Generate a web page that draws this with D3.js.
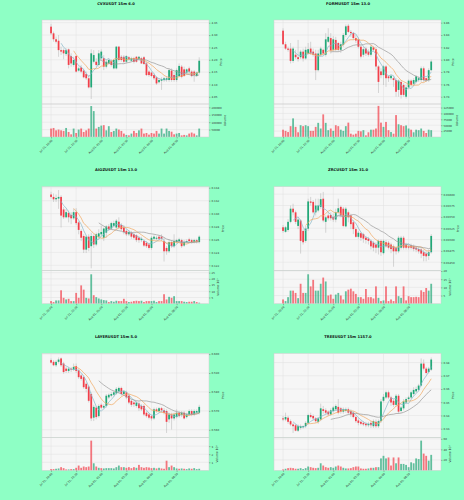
<!DOCTYPE html>
<html>
<head>
<meta charset="utf-8">
<script src="https://cdnjs.cloudflare.com/ajax/libs/d3/7.8.5/d3.min.js"></script>
<style>
  body{ margin:0; background:#8effc5; }
  svg{ display:block; font-family:"DejaVu Sans", sans-serif; }
</style>
</head>
<body>
<svg id="chart" width="464" height="500"></svg>
<script>
// x axis: candle index of each date tick and its label
var dateTicks = [0, 10, 20, 30, 40, 50];
var dateLabels = ["Jul 31, 20:00", "Jul 31, 22:30", "Aug 01, 01:00", "Aug 01, 03:30", "Aug 01, 06:00", "Aug 01, 08:30"];

// 15m candles, rows are [open, high, low, close]
var cvxOHLC = [
[4.334,4.345,4.300,4.307],[4.307,4.314,4.273,4.283],[4.283,4.294,4.266,4.273],[4.277,4.300,4.212,4.239],[4.239,4.253,4.219,4.233],
[4.239,4.246,4.202,4.226],[4.223,4.246,4.215,4.239],[4.242,4.246,4.165,4.179],[4.215,4.226,4.172,4.185],[4.179,4.212,4.172,4.199],
[4.215,4.219,4.148,4.152],[4.156,4.172,4.152,4.165],[4.169,4.179,4.145,4.152],[4.156,4.165,4.125,4.129],[4.142,4.152,4.118,4.125],
[4.125,4.138,4.084,4.088],[4.088,4.242,4.041,4.226],[4.192,4.239,4.185,4.219],[4.192,4.206,4.172,4.179],[4.179,4.239,4.172,4.226],
[4.206,4.242,4.199,4.233],[4.206,4.219,4.158,4.172],[4.172,4.199,4.165,4.192],[4.185,4.206,4.179,4.199],[4.196,4.202,4.172,4.179],
[4.165,4.202,4.161,4.199],[4.165,4.256,4.161,4.253],[4.253,4.256,4.192,4.199],[4.212,4.219,4.192,4.199],[4.212,4.219,4.185,4.192],
[4.192,4.219,4.185,4.215],[4.210,4.215,4.196,4.202],[4.196,4.212,4.192,4.206],[4.206,4.212,4.185,4.192],[4.212,4.215,4.188,4.192],
[4.202,4.215,4.196,4.212],[4.206,4.212,4.183,4.185],[4.210,4.215,4.179,4.183],[4.185,4.192,4.134,4.138],[4.152,4.158,4.131,4.138],
[4.148,4.152,4.129,4.134],[4.138,4.145,4.118,4.125],[4.129,4.134,4.098,4.104],[4.109,4.125,4.104,4.118],[4.115,4.129,4.078,4.121],
[4.118,4.131,4.111,4.125],[4.118,4.134,4.111,4.125],[4.118,4.165,4.111,4.158],[4.156,4.165,4.111,4.118],[4.138,4.152,4.111,4.118],
[4.118,4.165,4.111,4.158],[4.134,4.185,4.129,4.175],[4.172,4.179,4.125,4.131],[4.161,4.172,4.131,4.134],[4.148,4.165,4.142,4.161],
[4.165,4.172,4.148,4.152],[4.152,4.158,4.129,4.134],[4.152,4.158,4.111,4.138],[4.134,4.152,4.131,4.148],[4.148,4.210,4.142,4.196]];
var cvxVolume = [57000,61000,45000,50000,45000,41000,61000,34000,18000,57000,27000,50000,57000,34000,45000,57000,209000,175000,57000,68000,
77000,80000,45000,73000,34000,41000,57000,50000,41000,23000,14000,11000,23000,41000,27000,45000,57000,23000,27000,16000,
27000,23000,41000,23000,57000,23000,57000,41000,36000,18000,23000,27000,11000,14000,11000,23000,30000,23000,11000,57000];

var formOHLC = [
[3.847,3.851,3.824,3.825],[3.825,3.829,3.816,3.818],[3.818,3.821,3.813,3.816],[3.818,3.827,3.794,3.798],[3.798,3.821,3.795,3.818],
[3.808,3.816,3.801,3.804],[3.804,3.832,3.797,3.801],[3.804,3.816,3.801,3.813],[3.813,3.818,3.797,3.802],[3.802,3.821,3.800,3.816],
[3.810,3.827,3.808,3.817],[3.818,3.829,3.808,3.810],[3.813,3.818,3.805,3.808],[3.810,3.816,3.767,3.783],[3.783,3.816,3.781,3.810],
[3.808,3.821,3.805,3.818],[3.816,3.818,3.808,3.810],[3.808,3.843,3.805,3.833],[3.829,3.851,3.827,3.837],[3.835,3.843,3.810,3.815],
[3.816,3.838,3.813,3.833],[3.832,3.837,3.813,3.816],[3.827,3.829,3.813,3.816],[3.816,3.829,3.811,3.825],[3.824,3.843,3.821,3.840],
[3.840,3.857,3.837,3.854],[3.855,3.858,3.843,3.845],[3.845,3.848,3.837,3.843],[3.843,3.845,3.832,3.835],[3.835,3.840,3.827,3.831],
[3.833,3.836,3.818,3.821],[3.821,3.824,3.802,3.805],[3.808,3.821,3.804,3.817],[3.818,3.821,3.806,3.810],[3.813,3.817,3.805,3.808],
[3.808,3.824,3.805,3.821],[3.820,3.822,3.813,3.816],[3.817,3.821,3.783,3.789],[3.789,3.791,3.746,3.764],[3.781,3.786,3.770,3.775],
[3.775,3.791,3.759,3.789],[3.789,3.791,3.756,3.770],[3.773,3.775,3.764,3.770],[3.770,3.775,3.767,3.774],[3.770,3.773,3.756,3.767],
[3.767,3.770,3.740,3.748],[3.751,3.768,3.740,3.766],[3.764,3.767,3.737,3.743],[3.759,3.762,3.740,3.743],[3.740,3.759,3.737,3.755],
[3.755,3.768,3.752,3.766],[3.766,3.768,3.756,3.759],[3.761,3.770,3.757,3.767],[3.764,3.775,3.762,3.773],[3.767,3.773,3.764,3.770],
[3.767,3.789,3.764,3.786],[3.786,3.789,3.764,3.767],[3.770,3.771,3.764,3.767],[3.767,3.786,3.764,3.783],[3.783,3.800,3.781,3.797]];
var formVolume = [31000,26000,21000,46000,79000,43000,20000,50000,46000,50000,46000,26000,26000,43000,60000,36000,96000,60000,29000,36000,
26000,50000,46000,31000,26000,46000,61000,14000,10000,14000,26000,24000,29000,7000,20000,31000,31000,36000,132000,61000,
43000,64000,29000,21000,14000,93000,54000,50000,46000,49000,36000,31000,20000,31000,29000,36000,26000,17000,31000,29000];

var aiozOHLC = [
[0.13295,0.13337,0.13232,0.13258],[0.13258,0.13311,0.13179,0.13221],[0.13221,0.13295,0.13179,0.13242],[0.13232,0.13364,0.13074,0.13258],[0.13258,0.13285,0.12785,0.12969],
[0.13064,0.13100,0.12916,0.12943],[0.12943,0.13074,0.12927,0.13022],[0.13011,0.13048,0.12864,0.12943],[0.12980,0.13022,0.12837,0.12927],[0.12927,0.13074,0.12906,0.13022],
[0.13022,0.13085,0.12822,0.12853],[0.12864,0.12890,0.12680,0.12748],[0.12732,0.12759,0.12575,0.12627],[0.12653,0.12680,0.12390,0.12443],[0.12443,0.12664,0.12390,0.12643],
[0.12643,0.12680,0.12417,0.12469],[0.12496,0.12706,0.12154,0.12653],[0.12653,0.12680,0.12469,0.12522],[0.12522,0.12706,0.12496,0.12680],[0.12643,0.12759,0.12601,0.12695],
[0.12680,0.12811,0.12653,0.12716],[0.12627,0.12785,0.12575,0.12769],[0.12706,0.12822,0.12627,0.12801],[0.12801,0.12837,0.12732,0.12759],[0.12769,0.12874,0.12748,0.12853],
[0.12811,0.12890,0.12785,0.12853],[0.12785,0.12916,0.12759,0.12890],[0.12874,0.12943,0.12759,0.12785],[0.12822,0.12853,0.12732,0.12759],[0.12785,0.12822,0.12680,0.12716],
[0.12732,0.12759,0.12653,0.12680],[0.12680,0.12748,0.12653,0.12716],[0.12706,0.12732,0.12611,0.12643],[0.12680,0.12706,0.12601,0.12627],[0.12664,0.12680,0.12559,0.12590],
[0.12627,0.12653,0.12548,0.12590],[0.12590,0.12643,0.12559,0.12611],[0.12575,0.12601,0.12485,0.12506],[0.12548,0.12575,0.12469,0.12496],[0.12522,0.12548,0.12443,0.12469],
[0.12469,0.12653,0.12443,0.12627],[0.12611,0.12664,0.12590,0.12643],[0.12611,0.12653,0.12590,0.12627],[0.12643,0.12664,0.12590,0.12611],[0.12643,0.12680,0.12575,0.12611],
[0.12575,0.12627,0.12259,0.12417],[0.12469,0.12496,0.12364,0.12417],[0.12417,0.12601,0.12390,0.12559],[0.12559,0.12590,0.12469,0.12496],[0.12496,0.12680,0.12469,0.12575],
[0.12559,0.12611,0.12538,0.12590],[0.12575,0.12627,0.12548,0.12601],[0.12590,0.12611,0.12469,0.12496],[0.12506,0.12590,0.12485,0.12559],[0.12559,0.12601,0.12538,0.12575],
[0.12601,0.12627,0.12548,0.12575],[0.12590,0.12611,0.12538,0.12559],[0.12559,0.12611,0.12538,0.12590],[0.12590,0.12611,0.12538,0.12559],[0.12559,0.12664,0.12538,0.12643]];
var aiozVolume = [210000,132000,263000,263000,1078000,473000,342000,395000,210000,210000,868000,473000,1473000,1131000,473000,421000,2367000,684000,526000,421000,
342000,289000,263000,132000,210000,158000,237000,210000,210000,395000,210000,132000,158000,210000,237000,210000,237000,132000,210000,210000,
210000,237000,132000,210000,210000,763000,342000,552000,473000,605000,210000,210000,210000,158000,132000,158000,158000,210000,132000,79000];

var zrcOHLC = [
[0.03527,0.03532,0.03515,0.03519],[0.03517,0.03530,0.03515,0.03527],[0.03521,0.03545,0.03517,0.03539],[0.03539,0.03575,0.03536,0.03568],[0.03568,0.03579,0.03553,0.03560],
[0.03560,0.03564,0.03534,0.03539],[0.03530,0.03549,0.03523,0.03544],[0.03542,0.03545,0.03469,0.03497],[0.03519,0.03523,0.03489,0.03494],[0.03497,0.03530,0.03493,0.03524],
[0.03524,0.03590,0.03519,0.03584],[0.03584,0.03594,0.03575,0.03581],[0.03583,0.03587,0.03557,0.03560],[0.03560,0.03590,0.03553,0.03575],[0.03564,0.03590,0.03560,0.03575],
[0.03572,0.03602,0.03568,0.03589],[0.03590,0.03605,0.03538,0.03542],[0.03539,0.03553,0.03515,0.03549],[0.03553,0.03560,0.03542,0.03547],[0.03554,0.03560,0.03542,0.03547],
[0.03549,0.03557,0.03539,0.03544],[0.03544,0.03568,0.03538,0.03560],[0.03560,0.03590,0.03557,0.03569],[0.03572,0.03575,0.03549,0.03553],[0.03568,0.03572,0.03527,0.03530],
[0.03529,0.03572,0.03527,0.03568],[0.03560,0.03564,0.03538,0.03549],[0.03553,0.03557,0.03523,0.03534],[0.03538,0.03542,0.03512,0.03523],[0.03523,0.03527,0.03504,0.03506],
[0.03506,0.03519,0.03502,0.03515],[0.03514,0.03517,0.03497,0.03504],[0.03512,0.03515,0.03493,0.03502],[0.03504,0.03508,0.03491,0.03499],[0.03502,0.03506,0.03489,0.03497],
[0.03497,0.03500,0.03478,0.03485],[0.03493,0.03497,0.03474,0.03482],[0.03489,0.03494,0.03470,0.03482],[0.03482,0.03500,0.03467,0.03497],[0.03497,0.03500,0.03464,0.03472],
[0.03470,0.03500,0.03467,0.03497],[0.03494,0.03499,0.03482,0.03485],[0.03493,0.03497,0.03478,0.03482],[0.03489,0.03493,0.03470,0.03479],[0.03485,0.03489,0.03440,0.03474],
[0.03482,0.03485,0.03467,0.03474],[0.03474,0.03508,0.03470,0.03504],[0.03482,0.03508,0.03478,0.03504],[0.03504,0.03508,0.03478,0.03482],[0.03489,0.03493,0.03478,0.03482],
[0.03485,0.03489,0.03478,0.03482],[0.03487,0.03491,0.03478,0.03482],[0.03485,0.03489,0.03474,0.03479],[0.03482,0.03485,0.03472,0.03478],[0.03479,0.03484,0.03469,0.03474],
[0.03478,0.03482,0.03459,0.03469],[0.03472,0.03478,0.03452,0.03464],[0.03469,0.03474,0.03452,0.03463],[0.03464,0.03478,0.03455,0.03472],[0.03472,0.03512,0.03469,0.03508]];
var zrcVolume = [260000,160000,400000,800000,800000,660000,340000,1220000,660000,660000,1800000,1060000,1460000,800000,800000,1220000,1600000,1360000,500000,560000,
300000,560000,660000,500000,260000,760000,860000,920000,760000,600000,400000,400000,300000,900000,400000,400000,320000,1060000,360000,160000,
200000,1060000,160000,260000,160000,1060000,460000,360000,1060000,200000,460000,400000,400000,420000,400000,820000,720000,960000,800000,1220000];

var layerOHLC = [
[0.5968,0.5977,0.5950,0.5955],[0.5959,0.5968,0.5936,0.5941],[0.5941,0.5968,0.5932,0.5959],[0.5959,0.5982,0.5950,0.5971],[0.5977,0.5982,0.5932,0.5941],
[0.5950,0.5959,0.5896,0.5905],[0.5923,0.5932,0.5900,0.5911],[0.5911,0.5932,0.5900,0.5923],[0.5923,0.5932,0.5905,0.5918],[0.5918,0.5950,0.5911,0.5932],
[0.5936,0.5950,0.5900,0.5911],[0.5914,0.5923,0.5869,0.5878],[0.5887,0.5896,0.5860,0.5869],[0.5878,0.5887,0.5816,0.5825],[0.5843,0.5851,0.5798,0.5816],
[0.5828,0.5834,0.5744,0.5753],[0.5789,0.5798,0.5646,0.5660],[0.5664,0.5732,0.5646,0.5721],[0.5717,0.5726,0.5655,0.5667],[0.5672,0.5735,0.5664,0.5726],
[0.5732,0.5739,0.5708,0.5717],[0.5717,0.5735,0.5708,0.5726],[0.5726,0.5789,0.5717,0.5780],[0.5771,0.5792,0.5762,0.5785],[0.5780,0.5798,0.5771,0.5789],
[0.5785,0.5807,0.5775,0.5798],[0.5792,0.5825,0.5785,0.5816],[0.5803,0.5828,0.5792,0.5821],[0.5821,0.5828,0.5780,0.5789],[0.5789,0.5810,0.5780,0.5803],
[0.5798,0.5807,0.5762,0.5771],[0.5780,0.5789,0.5735,0.5744],[0.5753,0.5762,0.5721,0.5732],[0.5744,0.5753,0.5721,0.5735],[0.5726,0.5753,0.5717,0.5744],
[0.5739,0.5749,0.5699,0.5714],[0.5726,0.5735,0.5699,0.5708],[0.5726,0.5735,0.5672,0.5681],[0.5690,0.5699,0.5664,0.5672],[0.5681,0.5690,0.5655,0.5664],
[0.5672,0.5681,0.5649,0.5660],[0.5660,0.5717,0.5653,0.5708],[0.5708,0.5717,0.5690,0.5699],[0.5699,0.5721,0.5690,0.5714],[0.5714,0.5721,0.5690,0.5703],
[0.5703,0.5714,0.5681,0.5690],[0.5699,0.5708,0.5583,0.5642],[0.5655,0.5690,0.5637,0.5681],[0.5681,0.5690,0.5601,0.5660],[0.5660,0.5690,0.5649,0.5681],
[0.5667,0.5708,0.5660,0.5690],[0.5690,0.5699,0.5664,0.5672],[0.5678,0.5699,0.5667,0.5690],[0.5690,0.5699,0.5655,0.5660],[0.5667,0.5690,0.5660,0.5681],
[0.5681,0.5708,0.5672,0.5699],[0.5699,0.5708,0.5672,0.5681],[0.5681,0.5708,0.5672,0.5699],[0.5690,0.5708,0.5681,0.5699],[0.5690,0.5732,0.5681,0.5721]];
var layerVolume = [160000,160000,200000,240000,400000,280000,120000,120000,160000,160000,320000,600000,320000,480000,400000,480000,3680000,880000,480000,320000,
280000,240000,280000,280000,280000,240000,400000,600000,400000,400000,320000,400000,280000,400000,320000,680000,400000,320000,400000,360000,
280000,320000,240000,320000,240000,200000,1200000,400000,600000,400000,240000,200000,240000,200000,160000,240000,200000,280000,160000,200000];

var treeOHLC = [
[0.3378,0.3396,0.3357,0.3370],[0.3370,0.3421,0.3357,0.3388],[0.3383,0.3396,0.3337,0.3352],[0.3357,0.3370,0.3319,0.3332],[0.3332,0.3344,0.3268,0.3319],
[0.3326,0.3337,0.3280,0.3285],[0.3285,0.3332,0.3275,0.3319],[0.3306,0.3332,0.3293,0.3319],[0.3311,0.3326,0.3301,0.3319],[0.3319,0.3357,0.3306,0.3344],
[0.3344,0.3413,0.3332,0.3403],[0.3403,0.3421,0.3378,0.3388],[0.3396,0.3408,0.3362,0.3378],[0.3378,0.3388,0.3344,0.3357],[0.3352,0.3388,0.3337,0.3378],
[0.3370,0.3490,0.3357,0.3454],[0.3447,0.3472,0.3413,0.3434],[0.3439,0.3454,0.3408,0.3421],[0.3429,0.3439,0.3396,0.3408],[0.3408,0.3454,0.3396,0.3439],
[0.3434,0.3472,0.3421,0.3460],[0.3447,0.3485,0.3434,0.3472],[0.3465,0.3524,0.3408,0.3421],[0.3454,0.3465,0.3413,0.3429],[0.3429,0.3460,0.3413,0.3447],
[0.3434,0.3460,0.3421,0.3447],[0.3447,0.3460,0.3408,0.3421],[0.3434,0.3447,0.3388,0.3408],[0.3421,0.3434,0.3378,0.3388],[0.3388,0.3396,0.3344,0.3357],
[0.3362,0.3378,0.3326,0.3344],[0.3352,0.3362,0.3326,0.3337],[0.3344,0.3357,0.3319,0.3332],[0.3337,0.3352,0.3311,0.3326],[0.3326,0.3352,0.3311,0.3337],
[0.3344,0.3357,0.3306,0.3326],[0.3319,0.3370,0.3306,0.3357],[0.3352,0.3370,0.3306,0.3319],[0.3319,0.3370,0.3306,0.3357],[0.3357,0.3524,0.3344,0.3506],
[0.3511,0.3562,0.3498,0.3541],[0.3536,0.3588,0.3524,0.3575],[0.3575,0.3588,0.3524,0.3536],[0.3536,0.3549,0.3472,0.3498],[0.3511,0.3524,0.3465,0.3480],
[0.3480,0.3562,0.3465,0.3549],[0.3549,0.3562,0.3413,0.3429],[0.3434,0.3472,0.3421,0.3460],[0.3454,0.3524,0.3439,0.3506],[0.3498,0.3536,0.3485,0.3524],
[0.3524,0.3549,0.3511,0.3536],[0.3536,0.3588,0.3524,0.3575],[0.3562,0.3613,0.3549,0.3593],[0.3582,0.3618,0.3567,0.3600],[0.3593,0.3639,0.3582,0.3626],
[0.3626,0.3831,0.3618,0.3792],[0.3792,0.3823,0.3741,0.3754],[0.3754,0.3767,0.3710,0.3721],[0.3728,0.3767,0.3716,0.3754],[0.3746,0.3838,0.3736,0.3823]];
var treeVolume = [185000,308000,431000,492000,431000,308000,308000,431000,246000,431000,738000,615000,492000,431000,492000,1353000,923000,615000,492000,615000,
492000,738000,923000,738000,492000,369000,369000,431000,615000,738000,738000,369000,308000,308000,369000,492000,492000,615000,615000,2276000,
2768000,2276000,2460000,923000,2460000,1353000,2460000,1230000,1230000,1046000,615000,1538000,1353000,2276000,2153000,5658000,3198000,2768000,1845000,2952000];

// axis tick values
var cvxPriceTicks = [4.05, 4.10, 4.15, 4.20, 4.25, 4.30, 4.35];
var formPriceTicks = [3.74, 3.76, 3.78, 3.80, 3.82, 3.84, 3.86];
var aiozPriceTicks = [0.122, 0.124, 0.126, 0.128, 0.130, 0.132, 0.134];
var zrcPriceTicks = [0.0345, 0.03475, 0.035, 0.03525, 0.0355, 0.03575, 0.036];
var layerPriceTicks = [0.56, 0.57, 0.58, 0.59, 0.60];
var treePriceTicks = [0.33, 0.34, 0.35, 0.36, 0.37, 0.38];
var cvxVolTicks = [50000, 100000, 150000, 200000];
var formVolTicks = [25000, 50000, 75000, 100000, 125000];
var aiozVolTicks = [500000, 1000000, 1500000, 2000000, 2500000];
var zrcVolTicks = [500000, 1000000, 1500000, 2000000];
var layerVolTicks = [1000000, 2000000, 3000000];
var treeVolTicks = [2000000, 4000000, 6000000];

var panels = [
  {title:"CVXUSDT 15m 6.0", ohlc:cvxOHLC, vol:cvxVolume, pDom:[4.0208, 4.361], pTicks:cvxPriceTicks, pFmt:".2f", vDom:[0, 222800], vTicks:cvxVolTicks, exp:0},
  {title:"FORMUSDT 15m 13.0", ohlc:formOHLC, vol:formVolume, pDom:[3.7282, 3.8643], pTicks:formPriceTicks, pFmt:".2f", vDom:[0, 140000], vTicks:formVolTicks, exp:0},
  {title:"AIOZUSDT 15m 13.0", ohlc:aiozOHLC, vol:aiozVolume, pDom:[0.12117, 0.13416], pTicks:aiozPriceTicks, pFmt:".3f", vDom:[0, 2656000], vTicks:aiozVolTicks, exp:5},
  {title:"ZRCUSDT 15m 31.0", ohlc:zrcOHLC, vol:zrcVolume, pDom:[0.034313, 0.036165], pTicks:zrcPriceTicks, pFmt:".5f", vDom:[0, 2020000], vTicks:zrcVolTicks, exp:5},
  {title:"LAYERUSDT 15m 5.0", ohlc:layerOHLC, vol:layerVolume, pDom:[0.55597, 0.60036], pTicks:layerPriceTicks, pFmt:".3f", vDom:[0, 4080000], vTicks:layerVolTicks, exp:6},
  {title:"TREEUSDT 15m 1157.0", ohlc:treeOHLC, vol:treeVolume, pDom:[0.32342, 0.38691], pTicks:treePriceTicks, pFmt:".2f", vDom:[0, 6270000], vTicks:treeVolTicks, exp:5}
];

var upColor = "#22a878", downColor = "#f23f4a";
var maColors = {5:"#86b8c9", 10:"#f0a85e", 20:"#999999"};
var sup = {5:"\u2075", 6:"\u2076"};

function sma(arr, n){
  return arr.map(function(d, i){
    if(i < n-1) return null;
    var s = 0;
    for(var j = i-n+1; j <= i; j++) s += arr[j];
    return s/n;
  });
}

var svg = d3.select("#chart");
svg.append("rect").attr("width", 464).attr("height", 500).attr("fill", "#8effc5");

panels.forEach(function(p, k){
  var col = k % 2, row = Math.floor(k / 2);
  var x0 = 42 + 232*col, x1 = 209 + 232*col;
  var top = 20 + 166.7*row, mid = top + 84, bot = top + 117;
  var g = svg.append("g");

  var x = d3.scaleLinear().domain([-3.6, 62.9]).range([x0, x1]);
  var y = d3.scaleLinear().domain(p.pDom).range([mid, top]);
  var yv = d3.scaleLinear().domain(p.vDom).range([bot, mid]);

  //background
  g.append("rect").attr("x", x0).attr("y", top).attr("width", x1-x0).attr("height", mid-top).attr("fill", "#f6f6f6");
  g.append("rect").attr("x", x0).attr("y", mid).attr("width", x1-x0).attr("height", bot-mid).attr("fill", "#f6f6f6");

  //grid
  g.selectAll(".vgrid").data(dateTicks).enter().append("line")
    .attr("x1", function(d){return x(d);}).attr("x2", function(d){return x(d);})
    .attr("y1", top).attr("y2", bot)
    .attr("stroke", "#e1e1e1").attr("stroke-width", 0.5);
  g.selectAll(".pgrid").data(p.pTicks).enter().append("line")
    .attr("x1", x0).attr("x2", x1)
    .attr("y1", function(d){return y(d);}).attr("y2", function(d){return y(d);})
    .attr("stroke", "#e1e1e1").attr("stroke-width", 0.5);
  g.selectAll(".vgrid2").data(p.vTicks).enter().append("line")
    .attr("x1", x0).attr("x2", x1)
    .attr("y1", function(d){return yv(d);}).attr("y2", function(d){return yv(d);})
    .attr("stroke", "#e1e1e1").attr("stroke-width", 0.5);

  // wicks
  g.selectAll(".wick").data(p.ohlc).enter().append("line")
    .attr("x1", function(d, i){return x(i);}).attr("x2", function(d, i){return x(i);})
    .attr("y1", function(d){return y(d[1]);}).attr("y2", function(d){return y(d[2]);})
    .attr("stroke", "#a9a9a9").attr("stroke-width", 0.45);

  // bodies
  var bw = 1.75;
  g.selectAll(".body").data(p.ohlc).enter().append("rect")
    .attr("x", function(d, i){return x(i) - bw/2;})
    .attr("y", function(d){return y(Math.max(d[0], d[3]));})
    .attr("width", bw)
    .attr("height", function(d){return Math.max(0.4, Math.abs(y(d[0]) - y(d[3])));})
    .attr("fill", function(d){return d[3] >= d[0] ? upColor : downColor;});

  // moving averages
  var closes = p.ohlc.map(function(d){return d[3];});
  [5, 10, 20].forEach(function(n){
    var ma = sma(closes, n);
    var line = d3.line()
      .defined(function(d){return d != null;})
      .x(function(d, i){return x(i);})
      .y(function(d){return y(d);});
    g.append("path").datum(ma)
      .attr("d", line)
      .attr("fill", "none")
      .attr("stroke", maColors[n])
      .attr("stroke-width", 0.7);
  });

  // volume
  var vw = 1.8;
  g.selectAll(".vol").data(p.vol).enter().append("rect")
    .attr("x", function(d, i){return x(i) - vw/2;})
    .attr("y", function(d){return yv(d);})
    .attr("width", vw)
    .attr("height", function(d){return bot - yv(d);})
    .attr("fill", function(d, i){return p.ohlc[i][3] >= p.ohlc[i][0] ? upColor : downColor;})
    .attr("fill-opacity", 0.7);

  // frames
  g.append("rect").attr("x", x0).attr("y", top).attr("width", x1-x0).attr("height", mid-top)
    .attr("fill", "none").attr("stroke", "#cfcfcf").attr("stroke-width", 0.5);
  g.append("rect").attr("x", x0).attr("y", mid).attr("width", x1-x0).attr("height", bot-mid)
    .attr("fill", "none").attr("stroke", "#cfcfcf").attr("stroke-width", 0.5);

  // price axis (right)
  var pa = g.append("g").attr("transform", "translate(" + x1 + ",0)")
    .call(d3.axisRight(y).tickValues(p.pTicks).tickFormat(d3.format(p.pFmt)).tickSize(1.5).tickPadding(1));
  pa.attr("font-size", 2.7).attr("font-family", "DejaVu Sans, sans-serif");
  pa.select(".domain").remove();
  pa.selectAll("line").attr("stroke", "#555").attr("stroke-width", 0.4);
  pa.selectAll("text").attr("fill", "#333");
  var pw = d3.max(pa.selectAll("text").nodes(), function(n){return n.getComputedTextLength();});
  g.append("text")
    .attr("transform", "translate(" + (x1 + 2.5 + pw + 2) + "," + ((top + mid)/2) + ") rotate(-90)")
    .attr("dy", "0.8em").attr("text-anchor", "middle")
    .attr("font-size", 3).attr("fill", "#333")
    .text("Price");

  // volume axis (right)
  var div = Math.pow(10, p.exp);
  var va = g.append("g").attr("transform", "translate(" + x1 + ",0)")
    .call(d3.axisRight(yv).tickValues(p.vTicks).tickFormat(function(d){return d3.format("d")(d/div);}).tickSize(1.5).tickPadding(1));
  va.attr("font-size", 2.7).attr("font-family", "DejaVu Sans, sans-serif");
  va.select(".domain").remove();
  va.selectAll("line").attr("stroke", "#555").attr("stroke-width", 0.4);
  va.selectAll("text").attr("fill", "#333");
  var vwid = d3.max(va.selectAll("text").nodes(), function(n){return n.getComputedTextLength();});
  g.append("text")
    .attr("transform", "translate(" + (x1 + 2.5 + vwid + 2) + "," + ((mid + bot)/2) + ") rotate(-90)")
    .attr("dy", "0.8em").attr("text-anchor", "middle")
    .attr("font-size", 3).attr("fill", "#333")
    .text(p.exp ? "Volume  10" + sup[p.exp] : "Volume");

  // date axis
  var xa = g.append("g").attr("transform", "translate(0," + bot + ")")
    .call(d3.axisBottom(x).tickValues(dateTicks).tickFormat(function(d, i){return dateLabels[i];}).tickSize(1.5));
  xa.attr("font-size", 2.7).attr("font-family", "DejaVu Sans, sans-serif");
  xa.select(".domain").remove();
  xa.selectAll("line").attr("stroke", "#555").attr("stroke-width", 0.4);
  xa.selectAll("text")
    .attr("y", 0).attr("dy", "0.35em").attr("fill", "#333")
    .attr("text-anchor", "end")
    .attr("transform", "translate(0.5,3) rotate(-45)");

  // title
  g.append("text")
    .attr("x", 116 + 232*col).attr("y", top - 15.5)
    .attr("text-anchor", "middle")
    .attr("font-size", 3.7).attr("font-weight", "bold").attr("fill", "#111")
    .text(p.title);
});
</script>
</body>
</html>
